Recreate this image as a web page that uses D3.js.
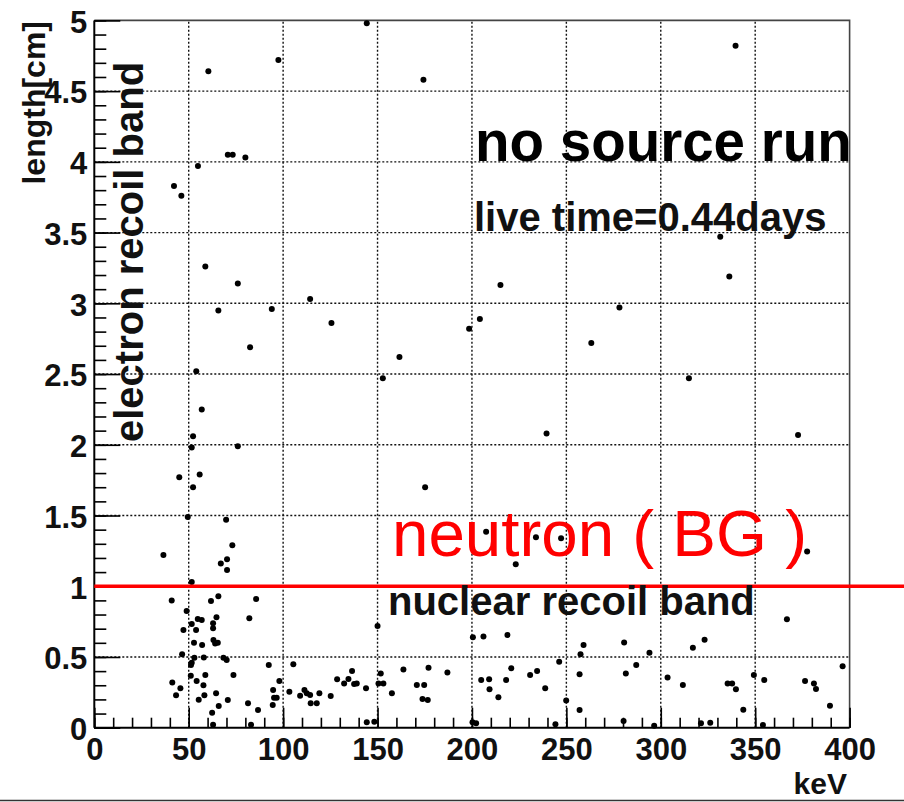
<!DOCTYPE html>
<html>
<head>
<meta charset="utf-8">
<script src="https://cdn.jsdelivr.net/npm/d3@7"></script>
<style>
  html, body { margin: 0; padding: 0; background: #fff; }
  svg { display: block; }
  text { font-family: "Liberation Sans", Arial, Helvetica, sans-serif; }
</style>
</head>
<body>
<svg id="chart" width="904" height="802"></svg>
<script>
// Event energies (keV) and track lengths (cm), one entry per recorded event
const energyKeV = [
  144.3, 97.5, 60.4, 174.3, 339.6,
  42.2, 46.1, 54.9, 70.7, 73.3, 80.0,
  331.5, 58.8, 76.0, 65.7, 94.0, 114.3, 125.6, 82.5, 54.0, 152.8, 161.6,
  336.3, 215.1, 204.2, 198.5, 278.1, 263.2, 314.9,
  239.5, 372.7, 175.2, 207.5, 233.9, 247.2, 223.2, 377.5,
  56.9, 52.3, 51.6, 76.0, 45.0, 55.8, 52.3, 49.5, 69.8, 73.1, 36.6, 67.0, 70.3, 70.3, 51.6,
  41.0, 61.8, 65.7, 85.7, 48.9, 82.1, 54.8, 56.9, 64.7, 51.6, 62.9, 62.9, 47.2, 53.9,
  63.1, 64.0, 65.4, 52.8, 57.1, 46.5, 53.0, 51.6, 51.2, 58.0, 68.4, 70.1, 92.4,
  51.1, 58.8, 73.7, 54.2, 57.8, 41.3, 45.6, 43.3, 55.3, 58.3, 64.5, 70.7, 65.9,
  81.4, 86.7, 62.4, 62.9, 83.0,
  94.7, 95.2, 94.5, 96.6, 98.0, 105.4, 103.3, 109.0, 111.3, 112.5, 114.3, 114.6,
  117.8, 119.2, 125.2, 128.6, 132.3, 134.6, 136.5, 137.6, 139.0, 143.9, 144.3,
  148.3, 150.0, 151.7, 150.5, 153.1, 157.6, 163.7, 170.8, 174.7, 173.8, 176.6,
  177.0, 187.0,
  200.5, 206.1, 218.8, 204.9, 209.1, 209.3, 214.0, 218.1, 220.8, 230.8, 234.5,
  238.8, 246.2, 249.9, 200.3, 202.2, 244.2, 257.0, 257.0, 257.5, 259.1, 280.3,
  280.6, 281.5, 287.0,
  294.0, 296.5, 303.6, 311.7, 317.0, 323.2, 321.3, 326.2, 335.4, 337.8, 339.8,
  343.7, 349.3, 354.1, 354.8, 366.8, 376.4, 381.1, 382.2, 389.6, 396.3
];
const lengthCm = [
  4.98, 4.72, 4.64, 4.58, 4.82,
  3.83, 3.76, 3.97, 4.05, 4.05, 4.03,
  3.47, 3.26, 3.14, 2.95, 2.96, 3.03, 2.86, 2.69, 2.52, 2.47, 2.62,
  3.19, 3.13, 2.89, 2.82, 2.97, 2.72, 2.47,
  2.08, 2.07, 1.70, 1.385, 1.347, 1.34, 1.155, 1.245,
  2.25, 2.06, 1.98, 1.99, 1.77, 1.79, 1.70, 1.49, 1.47, 1.29, 1.22, 1.16, 1.19, 1.115, 1.03,
  0.90, 0.896, 0.93, 0.91, 0.825, 0.773, 0.768, 0.761, 0.78, 0.733, 0.738, 0.703, 0.69, 0.69,
  0.62, 0.596, 0.60, 0.60, 0.585, 0.52, 0.495, 0.46, 0.443, 0.497, 0.495, 0.478, 0.443,
  0.368, 0.372, 0.372, 0.33, 0.30, 0.32, 0.278, 0.23, 0.198, 0.23, 0.243, 0.196, 0.153,
  0.172, 0.125, 0.106, 0.02, 0.02,
  0.266, 0.212, 0.16, 0.212, 0.33, 0.448, 0.255, 0.226, 0.266, 0.243, 0.231, 0.172,
  0.172, 0.243, 0.224, 0.342, 0.313, 0.344, 0.40, 0.309, 0.313, 0.278, 0.038,
  0.042, 0.719, 0.384, 0.313, 0.313, 0.243, 0.412, 0.302, 0.302, 0.203, 0.196,
  0.424, 0.39,
  0.639, 0.644, 0.655, 0.337, 0.342, 0.271, 0.215, 0.337, 0.42, 0.372, 0.40,
  0.278, 0.467, 0.193, 0.038, 0.031, 0.024, 0.377, 0.125, 0.52, 0.585, 0.047,
  0.603, 0.384, 0.443,
  0.53, 0.014, 0.354, 0.302, 0.566, 0.622, 0.031, 0.035, 0.313, 0.313, 0.271,
  0.127, 0.372, 0.019, 0.337, 0.766, 0.33, 0.313, 0.273, 0.156, 0.434
];

// Axis ticks and labels
const xMajorTicks = [0, 50, 100, 150, 200, 250, 300, 350, 400];
const xMajorLabels = ["0", "50", "100", "150", "200", "250", "300", "350", "400"];
const xMinorTicks = d3.range(0, 401, 10);
const yMajorTicks = [0, 0.5, 1, 1.5, 2, 2.5, 3, 3.5, 4, 4.5, 5];
const yMajorLabels = ["0", "0.5", "1", "1.5", "2", "2.5", "3", "3.5", "4", "4.5", "5"];
const yMinorTicks = d3.range(0, 51, 1).map(v => v / 10);

// Band separation cut (cm)
const cutLength = [1.0];

const svg = d3.select("#chart");
const FONT = '"Liberation Sans", Arial, Helvetica, sans-serif';

const x = d3.scaleLinear().domain([0, 400]).range([94.3, 849.6]);
const y = d3.scaleLinear().domain([0, 5]).range([727.7, 20.4]);

// Dotted grid at the major ticks
const grid = svg.append("g").attr("stroke", "#111").attr("stroke-width", 1.4)
  .attr("stroke-dasharray", "2,2");
grid.selectAll("line.gx").data(xMajorTicks.slice(1, -1)).join("line")
  .attr("x1", d => x(d)).attr("x2", d => x(d))
  .attr("y1", y(0)).attr("y2", y(5));
grid.selectAll("line.gy").data(yMajorTicks.slice(1, -1)).join("line")
  .attr("x1", x(0)).attr("x2", x(400))
  .attr("y1", d => y(d)).attr("y2", d => y(d));

// Frame: top and right edges
svg.append("path")
  .attr("d", `M${x(0)},${y(5)}H${x(400)}V${y(0)}`)
  .attr("fill", "none").attr("stroke", "#444").attr("stroke-width", 1.6);

// Y axis: minor ticks, then major ticks with labels (ticks point inward)
const yMinor = svg.append("g").attr("transform", `translate(${x(0)},0)`)
  .call(d3.axisLeft(y).tickValues(yMinorTicks).tickSize(-12).tickFormat(""));
yMinor.select(".domain").remove();
const yMajor = svg.append("g").attr("transform", `translate(${x(0)},0)`)
  .call(d3.axisLeft(y).tickValues(yMajorTicks).tickSize(-26).tickPadding(7)
    .tickFormat((d, i) => yMajorLabels[i]));
yMajor.select(".domain").remove();

// X axis
const xMinor = svg.append("g").attr("transform", `translate(0,${y(0)})`)
  .call(d3.axisBottom(x).tickValues(xMinorTicks).tickSize(-10).tickFormat(""));
xMinor.select(".domain").remove();
const xMajor = svg.append("g").attr("transform", `translate(0,${y(0)})`)
  .call(d3.axisBottom(x).tickValues(xMajorTicks).tickSize(-20).tickPadding(10)
    .tickFormat((d, i) => xMajorLabels[i]));
xMajor.select(".domain").remove();

svg.selectAll(".tick line").attr("stroke", "#000").attr("stroke-width", 1.6);
svg.selectAll(".tick text")
  .attr("font-family", FONT).attr("font-size", 31).attr("font-weight", "bold")
  .attr("fill", "#111");
yMajor.selectAll(".tick text").attr("dy", "0.38em");

// Axis lines
svg.append("line").attr("x1", x(0)).attr("x2", x(0)).attr("y1", y(5)).attr("y2", y(0))
  .attr("stroke", "#000").attr("stroke-width", 2);
svg.append("line").attr("x1", x(0)).attr("x2", x(400)).attr("y1", y(0)).attr("y2", y(0))
  .attr("stroke", "#000").attr("stroke-width", 2);

// Events
const events = energyKeV.map((e, i) => ({ e, l: lengthCm[i] }));
svg.append("g").selectAll("circle").data(events).join("circle")
  .attr("cx", d => x(d.e)).attr("cy", d => y(d.l)).attr("r", 3)
  .attr("fill", "#000");

// Cut line between electron and nuclear recoil bands
svg.selectAll("line.cut").data(cutLength).join("line")
  .attr("class", "cut")
  .attr("x1", x(0)).attr("x2", 904)
  .attr("y1", d => y(d)).attr("y2", d => y(d))
  .attr("stroke", "#ff0000").attr("stroke-width", 3.4);

// Axis titles
svg.append("text")
  .attr("transform", "translate(45,21) rotate(-90)")
  .attr("text-anchor", "end")
  .attr("font-family", FONT).attr("font-size", 32).attr("font-weight", "bold")
  .attr("fill", "#111")
  .text("length[cm]");
svg.append("text")
  .attr("x", 847).attr("y", 794).attr("text-anchor", "end")
  .attr("font-family", FONT).attr("font-size", 30).attr("font-weight", "bold")
  .attr("fill", "#111")
  .text("keV");

// Annotations
svg.append("text")
  .attr("transform", "translate(143,442) rotate(-90)")
  .attr("font-family", FONT).attr("font-size", 40).attr("font-weight", "bold")
  .attr("fill", "#111")
  .text("electron recoil band");
svg.append("text")
  .attr("x", 475).attr("y", 161)
  .attr("font-family", FONT).attr("font-size", 56.5).attr("font-weight", "bold")
  .attr("fill", "#000")
  .text("no source run");
svg.append("text")
  .attr("x", 474).attr("y", 231)
  .attr("font-family", FONT).attr("font-size", 40).attr("font-weight", "bold")
  .attr("fill", "#111")
  .text("live time=0.44days");
svg.append("text")
  .attr("x", 392).attr("y", 556)
  .attr("font-family", FONT).attr("font-size", 65.5)
  .attr("fill", "#ff0000")
  .text("neutron ( BG )");
svg.append("text")
  .attr("x", 388).attr("y", 615)
  .attr("font-family", FONT).attr("font-size", 40).attr("font-weight", "bold")
  .attr("fill", "#111")
  .text("nuclear recoil band");

// Rule along the bottom edge
svg.append("line").attr("x1", 0).attr("x2", 904).attr("y1", 800.5).attr("y2", 800.5)
  .attr("stroke", "#333").attr("stroke-width", 1.6);
</script>
</body>
</html>
